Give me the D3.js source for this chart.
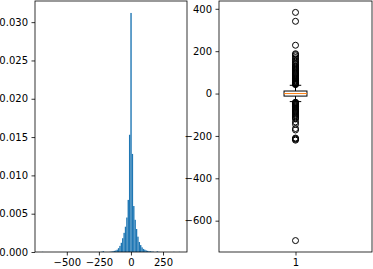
<!DOCTYPE html>
<meta charset="utf-8">
<script src="https://d3js.org/d3.v7.min.js"></script>
<style>
body { margin: 0; background: #fff; }
text { font-family: "DejaVu Sans", sans-serif; font-size: 10px; fill: #000; }
.axis path, .axis line { stroke: #000; stroke-width: 0.8px; }
</style>
<body>
<script>

// histogram: 100 bins between the data min and max
var histMin = -694, histMax = 383, nBins = 100;
var density = [
  0.00002, 0, 0, 0, 0, 0, 0, 0, 0, 0,
  0, 0, 0, 0, 0, 0, 0, 0, 0, 0,
  0, 0, 0, 0, 0, 0, 0, 0, 0, 0,
  0, 0, 0, 0, 0, 0, 0, 0, 0, 0,
  0, 0, 0, 0.00004, 0.0001, 0, 0, 0, 0, 0.00003,
  0.00005, 0.0001, 0.00015, 0.0002, 0.0003, 0.0005, 0.0008, 0.0012, 0.0018, 0.0025,
  0.0033, 0.0045, 0.0068, 0.0153, 0.0312, 0.0128, 0.0060, 0.0042, 0.0030, 0.0020,
  0.0013, 0.0009, 0.0006, 0.0004, 0.0003, 0.0002, 0.00015, 0.0001, 0.0001, 0.00005,
  0.00005, 0, 0, 0.00008, 0.00002, 0, 0, 0, 0, 0,
  0, 0, 0, 0, 0, 0.00002, 0, 0, 0, 0.00002
];
var histXTicks = [-500, -250, 0, 250];
var histYTicks = [0, 0.005, 0.010, 0.015, 0.020, 0.025, 0.030];

// boxplot
var boxLabel = "1";
var q1 = -12, median = 0, q3 = 12, whiskLo = -38, whiskHi = 39;
var outliers = [
  383, 341, 228, 188, 184, 178, 170, 163, 155, 148, 142, 136, 130, 125, 120,
  115, 110, 105, 100, 96, 92, 88, 84, 80, 76, 72, 68, 64, 60, 57, 54, 51, 48, 46, 44, 42,
  -41, -43, -45, -48, -51, -54, -57, -60, -63, -66, -70, -74, -78, -82, -86, -90,
  -95, -100, -105, -110, -115, -120, -134, -145, -165, -172, -210, -213, -216, -220, -694
];
var boxYTicks = [-600, -400, -200, 0, 200, 400];

var width = 373, height = 269;
var plotTop = 1, plotBottom = 252;

var svg = d3.select("body").append("svg")
    .attr("width", width)
    .attr("height", height);

var minus = function(f) { return function(d) { return f(d).replace("-", "\u2212"); }; };

// ---- left: histogram ----
var binW = (histMax - histMin) / nBins;
var pad = (histMax - histMin) * 0.05;
var x1 = d3.scaleLinear().domain([histMin - pad, histMax + pad]).range([35, 187]);
var y1 = d3.scaleLinear().domain([0, d3.max(density) * 1.05]).range([plotBottom, plotTop]);

var g1 = svg.append("g");
g1.selectAll("rect")
    .data(density)
    .enter().append("rect")
    .attr("x", function(d, i) { return x1(histMin + i * binW); })
    .attr("width", function(d, i) { return x1(histMin + (i + 1) * binW) - x1(histMin + i * binW); })
    .attr("y", function(d) { return y1(d); })
    .attr("height", function(d) { return plotBottom - y1(d); })
    .attr("fill", "#1f77b4");

g1.append("g").attr("class", "axis")
    .attr("transform", "translate(0," + plotBottom + ")")
    .call(d3.axisBottom(x1).tickValues(histXTicks).tickSize(3.5).tickPadding(3.5)
      .tickSizeOuter(0).tickFormat(minus(d3.format("d"))));
g1.append("g").attr("class", "axis")
    .attr("transform", "translate(35,0)")
    .call(d3.axisLeft(y1).tickValues(histYTicks).tickSize(3.5).tickPadding(3.5)
      .tickSizeOuter(0).tickFormat(d3.format(".3f")));
g1.append("rect")
    .attr("x", 35).attr("y", plotTop).attr("width", 187 - 35).attr("height", plotBottom - plotTop)
    .attr("fill", "none").attr("stroke", "#000").attr("stroke-width", 0.8);

// ---- right: boxplot ----
var ext = d3.extent(outliers.concat([whiskLo, whiskHi]));
var pad2 = (ext[1] - ext[0]) * 0.05;
var x2 = d3.scaleLinear().domain([0.5, 1.5]).range([219, 372]);
var y2 = d3.scaleLinear().domain([ext[0] - pad2, ext[1] + pad2]).range([plotBottom, plotTop]);

var g2 = svg.append("g");
var cx = x2(1), bw = x2(1.075) - x2(0.925), cw = bw / 2;

g2.append("line").attr("x1", cx).attr("x2", cx).attr("y1", y2(q3)).attr("y2", y2(whiskHi))
    .attr("stroke", "#000");
g2.append("line").attr("x1", cx).attr("x2", cx).attr("y1", y2(q1)).attr("y2", y2(whiskLo))
    .attr("stroke", "#000");
g2.selectAll("line.cap")
    .data([whiskLo, whiskHi])
    .enter().append("line").attr("class", "cap")
    .attr("x1", cx - cw / 2).attr("x2", cx + cw / 2)
    .attr("y1", function(d) { return y2(d); }).attr("y2", function(d) { return y2(d); })
    .attr("stroke", "#000");
g2.append("rect")
    .attr("x", cx - bw / 2).attr("width", bw)
    .attr("y", y2(q3)).attr("height", y2(q1) - y2(q3))
    .attr("fill", "none").attr("stroke", "#000");
g2.append("line").attr("x1", cx - bw / 2).attr("x2", cx + bw / 2)
    .attr("y1", y2(median)).attr("y2", y2(median))
    .attr("stroke", "#ff7f0e");
g2.selectAll("circle")
    .data(outliers)
    .enter().append("circle")
    .attr("cx", cx).attr("cy", function(d) { return y2(d); })
    .attr("r", 3)
    .attr("fill", "none").attr("stroke", "#000").attr("stroke-width", 1);

g2.append("g").attr("class", "axis")
    .attr("transform", "translate(0," + plotBottom + ")")
    .call(d3.axisBottom(x2).tickValues([1]).tickSize(3.5).tickPadding(3.5)
      .tickSizeOuter(0).tickFormat(function() { return boxLabel; }));
g2.append("g").attr("class", "axis")
    .attr("transform", "translate(219,0)")
    .call(d3.axisLeft(y2).tickValues(boxYTicks).tickSize(3.5).tickPadding(3.5)
      .tickSizeOuter(0).tickFormat(minus(d3.format("d"))));
g2.append("rect")
    .attr("x", 219).attr("y", plotTop).attr("width", 372 - 219).attr("height", plotBottom - plotTop)
    .attr("fill", "none").attr("stroke", "#000").attr("stroke-width", 0.8);

svg.selectAll(".axis text").style("font-size", "10px").style("font-family", "DejaVu Sans, sans-serif");
svg.selectAll(".axis .domain").remove();

</script>
</body>
